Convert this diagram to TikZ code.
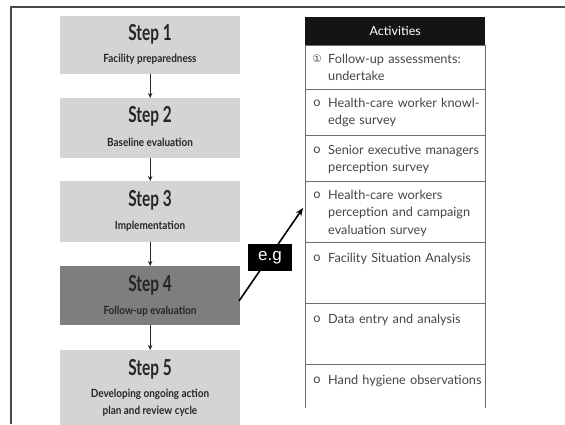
\documentclass[tikz,border=0pt]{standalone}
\usepackage{fontspec}
\setmainfont{Lato}
\newfontfamily\stepfont[FakeStretch=0.7]{Lato Bold}
\newfontfamily\subfont[FakeStretch=0.88]{Lato Bold}
\newfontfamily\egfont{Liberation Sans}
\newfontfamily\symfont{DejaVu Sans}
\usetikzlibrary{arrows.meta}
\definecolor{stepgray}{HTML}{D4D4D4}
\definecolor{darkstep}{HTML}{7E7E7E}
\definecolor{rowtext}{HTML}{454545}
\definecolor{rowline}{HTML}{6E6E6E}
\definecolor{frame}{HTML}{4A4A4A}
\tikzset{
  stepbox/.style={fill=stepgray, draw=none, minimum width=180pt, inner sep=0pt, anchor=north west},
  steptitle/.style={anchor=base, inner sep=0pt, font=\stepfont\fontsize{22}{22}\selectfont, text=black!85},
  stepsub/.style={anchor=base, inner sep=0pt, align=center, font=\subfont\fontsize{11.3}{17}\selectfont, text=black!85},
  steparrow/.style={draw=black!85, line width=0.8pt, -{Stealth[length=5pt,width=4.5pt]}},
  rowbox/.style={draw=rowline, line width=0.8pt, minimum width=180pt, inner sep=0pt, anchor=north west},
  rowtxt/.style={anchor=north west, inner sep=0pt, text width=160pt, align=left, font=\fontsize{12.7}{17.5}\selectfont, text=rowtext},
  bullet/.style={anchor=base, inner sep=0pt, font=\fontsize{12.7}{17.5}\selectfont, text=rowtext},
}
\newcommand{\fst}{\rule{0pt}{9pt}}
\begin{document}
\begin{tikzpicture}[x=1pt,y=-1pt]
\useasboundingbox (0,0) rectangle (565,424);
% frame
\draw[frame, line width=1.3pt] (565,7) -- (11,7) -- (11,424);
% steps
\begin{scope}
\clip (0,0) rectangle (565,424);
\node[stepbox, minimum height=58pt] (s1) at (60,16) {};
\node[stepbox, minimum height=60pt] (s2) at (60,98) {};
\node[stepbox, minimum height=61pt] (s3) at (60,181) {};
\node[stepbox, minimum height=59pt, fill=darkstep] (s4) at (60,266) {};
\node[stepbox, minimum height=80pt] (s5) at (60,350) {};
\end{scope}
\node[steptitle] (s1t) at (150,40) {Step 1};
\node[stepsub] (s1s) at (150,62) {Facility preparedness};
\node[steptitle] (s2t) at (150,122) {Step 2};
\node[stepsub] (s2s) at (150,146) {Baseline evaluation};
\node[steptitle] (s3t) at (150,206) {Step 3};
\node[stepsub] (s3s) at (150,229) {Implementation};
\node[steptitle] (s4t) at (150,291) {Step 4};
\node[stepsub] (s4s) at (150,314) {Follow-up evaluation};
\node[steptitle] (s5t) at (150,375) {Step 5};
\node[stepsub] (s5s) at (150,414) {Developing ongoing action\\plan and review cycle};
\draw[steparrow] (s1.south) -- (s2.north);
\draw[steparrow] (s2.south) -- (s3.north);
\draw[steparrow] (s3.south) -- (s4.north);
\draw[steparrow] (s4.south) -- (s5.north);
% activities table
\node[anchor=north west, fill=black!92, minimum width=180pt, minimum height=28pt, inner sep=0pt] (hd) at (305,17) {};
\node[text=white, inner sep=0pt, font=\fontsize{12.5}{14}\selectfont] (hdt) at (hd.center) {Activities};
\node[rowbox, minimum height=44pt] (r1) at (305,45) {};
\node[rowbox, minimum height=46pt] (r2) at (305,89) {};
\node[rowbox, minimum height=46pt] (r3) at (305,135) {};
\node[rowbox, minimum height=61pt] (r4) at (305,181) {};
\node[rowbox, minimum height=61pt] (r5) at (305,242) {};
\node[rowbox, minimum height=61pt] (r6) at (305,303) {};
\draw[rowline, line width=0.8pt] (305,364) -- (305,408);
\draw[rowline, line width=0.8pt] (485,364) -- (485,408);
\coordinate (r7) at (305,364);
\node[anchor=base, inner sep=0pt, font=\symfont\fontsize{10.5}{10}\selectfont, text=rowtext] (b1) at (317,62) {①};
\node[rowtxt] (t1) at (328,53.5) {\fst Follow-up assessments:\\undertake};
\node[bullet] (b2) at (317,106.5) {o};
\node[rowtxt] (t2) at (328,97.5) {\fst Health-care worker knowl-\\edge survey};
\node[bullet] (b3) at (317,153.5) {o};
\node[rowtxt] (t3) at (328,144.5) {\fst Senior executive managers\\perception survey};
\node[bullet] (b4) at (317,198.5) {o};
\node[rowtxt] (t4) at (328,189.5) {\fst Health-care workers\\perception and campaign\\evaluation survey};
\node[bullet] (b5) at (317,261.5) {o};
\node[rowtxt] (t5) at (328,252.5) {\fst Facility Situation Analysis};
\node[bullet] (b6) at (317,322.5) {o};
\node[rowtxt] (t6) at (328,313.5) {\fst Data entry and analysis};
\node[bullet] (b7) at (317,383.5) {o};
\node[rowtxt] (t7) at (328,374.5) {\fst Hand hygiene observations};
% e.g arrow
\coordinate (a0) at (239,301);
\coordinate (a1) at (303,208);
\draw[line width=1.6pt, -{Stealth[length=8pt,width=6.5pt]}] (a0) -- (a1);
\node[fill=black, text=white, minimum width=44pt, minimum height=27pt, inner sep=0pt, font=\egfont\fontsize{17}{17}\selectfont] (eg) at (270,257.5) {e.g};
\end{tikzpicture}
\end{document}
